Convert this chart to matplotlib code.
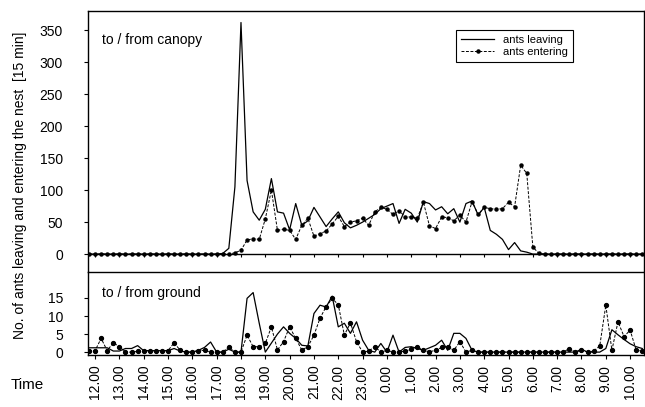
import numpy as np
from matplotlib import use
use('Agg')
import matplotlib.pyplot as plt

plt.rcParams['font.family'] = ['Liberation Sans', 'DejaVu Sans']

# 15-min counts, 11.45 -> 10.30 next day (92 intervals)
canopy_leaving = [0] * 22 + [
    1, 9, 105, 362, 115, 66, 53, 70, 118, 66,
    64, 38, 79, 45, 52, 73, 58, 43, 55, 66,
    49, 41, 45, 50, 56, 62, 71, 75, 79, 48,
    70, 64, 50, 82, 79, 69, 74, 63, 71, 50,
    79, 83, 61, 73, 37, 31, 23, 7, 18, 5,
    3] + [0] * 19
canopy_entering = [0] * 24 + [
    2, 6, 22, 24, 23, 55, 100, 37, 39, 37,
    23, 45, 56, 28, 32, 36, 47, 59, 43, 50,
    52, 56, 45, 66, 73, 70, 62, 68, 58, 58,
    56, 81, 44, 40, 58, 57, 52, 61, 50, 82,
    62, 73, 71, 70, 71, 81, 74, 139, 126, 11,
    1] + [0] * 17
ground_leaving = [
    1.2, 1.2, 1.2, 1.2, 0.3, 0.3, 1.0, 1.0, 1.8, 0.4,
    0.4, 0.4, 0.4, 0.4, 1.0, 0.3, 0, 0, 0.5, 1.3,
    2.8, 0, 0, 0.8, 0, 0, 14.9, 16.5, 8.0, 0,
    2.5, 5.0, 7.0, 5.2, 3.8, 1.9, 1.7, 10.7, 13.0, 12.5,
    15.5, 7.0, 8.0, 5.2, 8.4, 3.3, 0.5, 0, 2.4, 0,
    4.7, 0, 1.3, 1.5, 1.0, 0.5, 1.2, 1.9, 3.3, 0.5,
    5.2, 5.2, 3.8, 0.5] + [0] * 17 + [
    0.8, 0, 0, 0, 1.0, 6.2, 4.8, 3.5, 2.3, 1.5, 1.0]
ground_entering = [
    0.4, 0.4, 3.8, 0.4, 2.6, 1.5, 0, 0, 0.2, 0.4,
    0.4, 0.4, 0.4, 0.4, 2.6, 0.5, 0, 0, 0.4, 0.5,
    0, 0, 0, 1.5, 0, 0, 4.7, 1.5, 1.5, 2.4,
    7.0, 0.6, 2.9, 7.0, 3.8, 0.6, 1.5, 4.7, 9.4, 12.6,
    14.9, 13.1, 4.7, 8.1, 2.9, 0, 0.3, 1.5, 0, 0.5,
    0, 0, 0.3, 0.8, 1.5, 0.5, 0.1, 0.5, 1.3, 1.5,
    0.5, 2.9, 0, 0.5] + [0] * 15 + [
    1.0, 0, 0.5, 0, 0.3, 1.7, 13.0, 0.5, 8.4, 4.3, 6.1, 0.5, 0.3]

hours = list(range(12, 35))
hour_labels = ['%d.00' % (h % 24) for h in hours]

t = 11.75 + 0.25 * np.arange(len(canopy_leaving))

W, H = 645, 407
fig = plt.figure(figsize=(W / 100, H / 100), dpi=100)
x0, x1 = 88 / W, 644 / W
ax1 = fig.add_axes([x0, 1 - 272 / H, x1 - x0, (272 - 11) / H])
ax2 = fig.add_axes([x0, 1 - 355 / H, x1 - x0, (355 - 272) / H])

lw = 0.9
dash = (0, (3, 1.6))
ax1.plot(t, canopy_leaving, color='black', lw=lw, label='ants leaving')
ax1.plot(t, canopy_entering, color='black', lw=0.7, ls=dash, marker='o',
         markersize=2.2, label='ants entering')
ax2.plot(t, ground_leaving, color='black', lw=lw)
ax2.plot(t, ground_entering, color='black', lw=0.7, ls=dash, marker='o', markersize=2.8)

for ax in (ax1, ax2):
    ax.set_xlim(11.71, 34.57)
    ax.set_xticks(hours)
    for s in ax.spines.values():
        s.set_linewidth(1.0)
    ax.tick_params(axis='y', direction='out', length=3, pad=15, labelsize=10)

ax1.set_ylim(-28, 380)
ax1.set_yticks(range(0, 351, 50))
ax1.spines['bottom'].set_position(('data', 0))
ax1.tick_params(axis='x', direction='out', length=2, labelbottom=False)

ax2.set_ylim(-0.8, 22.2)
ax2.set_yticks([0, 5, 10, 15])
ax2.set_xticklabels(hour_labels, rotation=90, fontsize=10)
ax2.tick_params(axis='x', direction='out', length=3, pad=4)

leg = ax1.legend(loc='upper left', bbox_to_anchor=(456 / W, 1 - 30 / H),
                 bbox_transform=fig.transFigure, fontsize=8, fancybox=False,
                 edgecolor='black', framealpha=1, handlelength=3.0,
                 borderpad=0.45, labelspacing=0.2, borderaxespad=0)
leg.get_frame().set_linewidth(0.8)

fig.text(102 / W, 1 - 40 / H, 'to / from canopy', fontsize=10, va='center')
fig.text(102 / W, 1 - 293 / H, 'to / from ground', fontsize=10, va='center')
fig.text(20 / W, 1 - 185 / H, 'No. of ants leaving and entering the nest  [15 min]',
         rotation=90, fontsize=10, ha='center', va='center')
fig.text(11 / W, 1 - 385 / H, 'Time', fontsize=11, va='center')

fig.savefig('out.png', dpi=100)
